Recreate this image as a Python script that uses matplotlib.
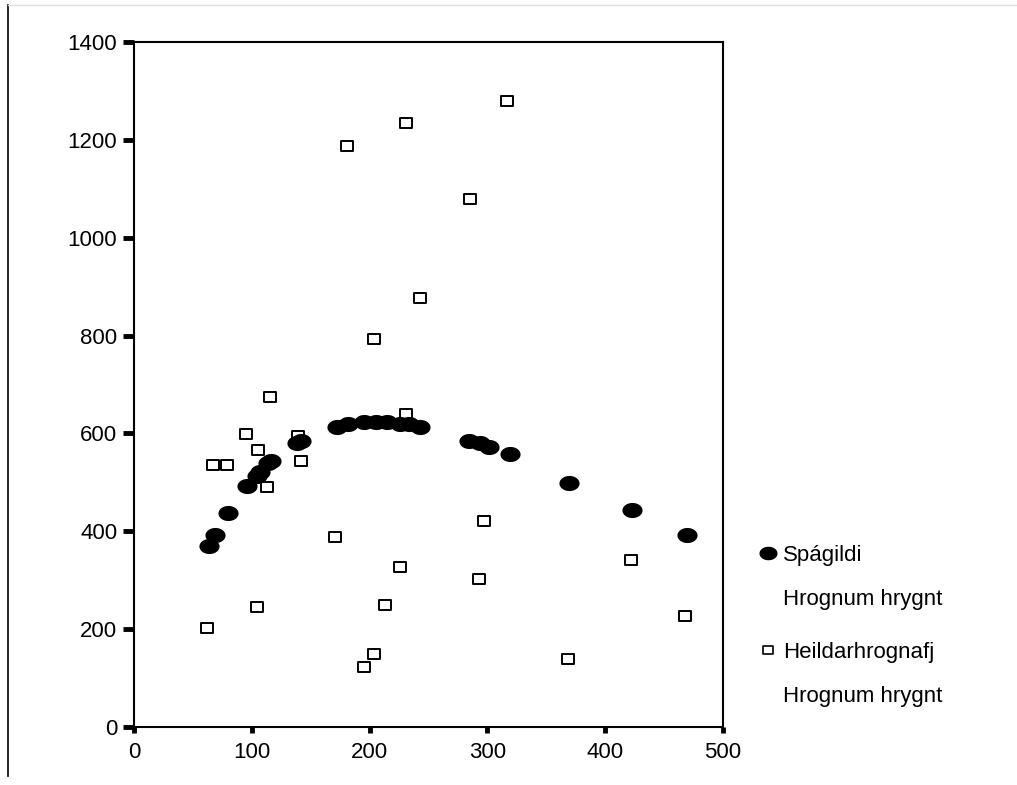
import numpy as np
import matplotlib
matplotlib.use("Agg")
import matplotlib.pyplot as plt
from matplotlib.path import Path
from matplotlib.lines import Line2D

plt.rcParams['font.family'] = ['Liberation Sans', 'DejaVu Sans']

# Predicted values (Spágildi) and observed totals (Heildarhrognafj) vs Hrognum hrygnt
pred_x = [64, 69, 80, 96, 104, 107, 114, 116, 138, 142, 172, 182, 195, 205, 215,
          226, 233, 243, 284, 294, 301, 319, 369, 423, 469]
pred_y = [369, 393, 437, 493, 512, 522, 540, 544, 580, 585, 613, 619, 623, 623, 623,
          619, 619, 613, 585, 580, 572, 557, 499, 443, 392]

obs_x = [62, 67, 79, 95, 104, 105, 113, 115, 139, 142, 171, 181, 195, 204, 204,
         213, 226, 231, 231, 243, 285, 293, 297, 317, 368, 422, 468]
obs_y = [202, 535, 535, 599, 245, 566, 490, 674, 594, 543, 388, 1188, 123, 149, 792,
         250, 328, 639, 1234, 876, 1079, 303, 422, 1280, 139, 342, 227]

x_ticks = [0, 100, 200, 300, 400, 500]
y_ticks = [0, 200, 400, 600, 800, 1000, 1200, 1400]

pred_labels = ["Spágildi", "Hrognum hrygnt"]
obs_labels = ["Heildarhrognafj", "Hrognum hrygnt"]

# wide ellipse and flat rectangle markers, like the original
theta = np.linspace(0, 2 * np.pi, 64)
ellipse = Path(np.column_stack([np.cos(theta), 0.75 * np.sin(theta)]), closed=True)
rect = Path([(-1, -0.78), (1, -0.78), (1, 0.78), (-1, 0.78), (-1, -0.78)], closed=True)

fig = plt.figure(figsize=(10.17, 7.85), dpi=100)
ax = fig.add_axes([0.1318, 0.0739, 0.5792, 0.8726])

ax.plot(obs_x, obs_y, linestyle='none', marker=rect, markersize=8.6,
        markerfacecolor='white', markeredgecolor='black', markeredgewidth=1.4,
        zorder=3)
ax.plot(pred_x, pred_y, linestyle='none', marker=ellipse, markersize=14.5,
        markerfacecolor='black', markeredgecolor='black', markeredgewidth=0,
        zorder=4)

ax.set_xlim(0, 500)
ax.set_ylim(0, 1400)
ax.set_xticks(x_ticks)
ax.set_yticks(y_ticks)
ax.tick_params(axis='y', direction='out', length=8, width=3.5, pad=4, labelsize=16)
ax.tick_params(axis='x', direction='out', length=4, width=3.5, pad=7, labelsize=16)
for s in ax.spines.values():
    s.set_linewidth(1.5)
    s.set_color('black')

# legend, drawn as two blocks so the marker sits by the first line
h_pred = Line2D([], [], linestyle='none', marker=ellipse, markersize=13,
                markerfacecolor='black', markeredgewidth=0)
h_obs = Line2D([], [], linestyle='none', marker=rect, markersize=7.5,
               markerfacecolor='white', markeredgecolor='black', markeredgewidth=1.2)
blank = Line2D([], [], linestyle='none')

leg_kw = dict(loc='upper left', frameon=False, fontsize=16, handlelength=1.0,
              handletextpad=0.2, labelspacing=1.05, borderpad=0, borderaxespad=0)
leg1 = ax.legend([h_pred, blank], pred_labels,
                 bbox_to_anchor=(0.744, 0.306), bbox_transform=fig.transFigure, **leg_kw)
ax.add_artist(leg1)
ax.legend([h_obs, blank], obs_labels,
          bbox_to_anchor=(0.744, 0.182), bbox_transform=fig.transFigure, **leg_kw)

# outer page frame remnants
fig.add_artist(Line2D([0.008, 0.008], [0.012, 0.993], color='black', linewidth=1.2,
                      transform=fig.transFigure))
fig.add_artist(Line2D([0.008, 1.0], [0.993, 0.993], color='#dddddd', linewidth=1.0,
                      transform=fig.transFigure))

fig.savefig("out.png", dpi=100)
